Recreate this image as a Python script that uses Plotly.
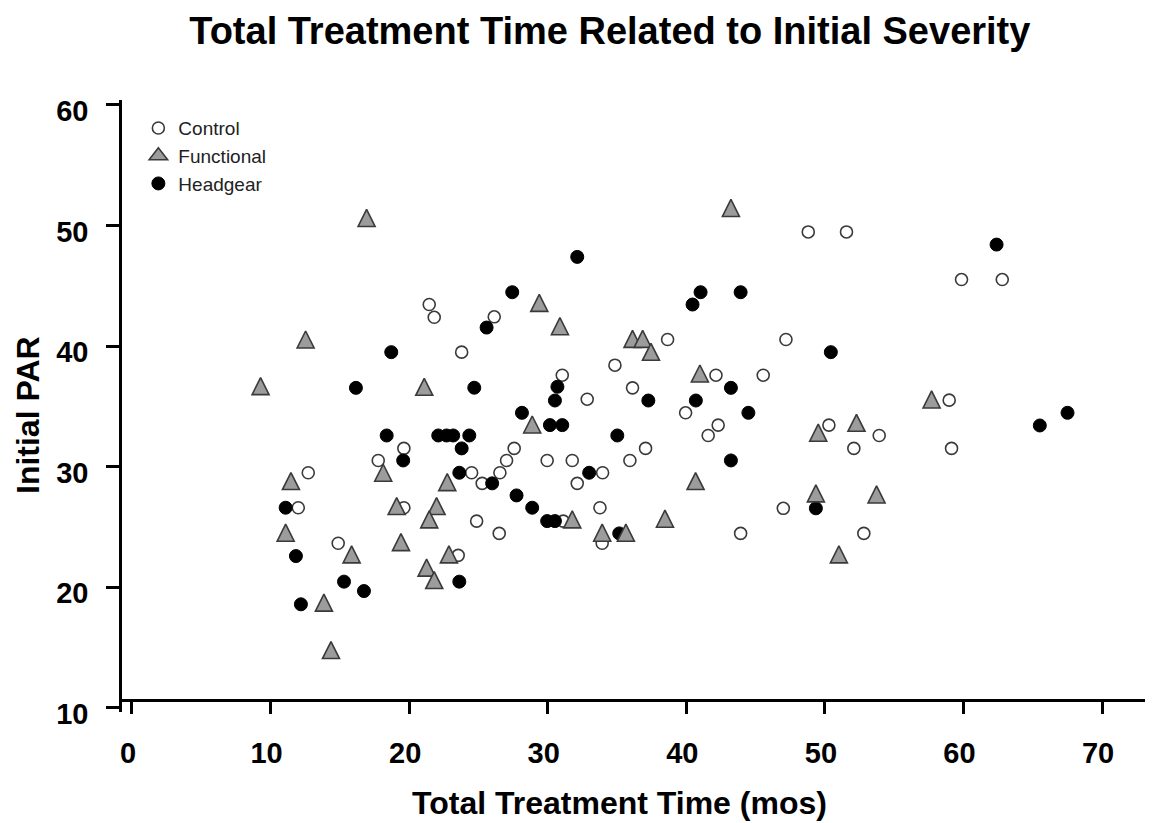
import plotly.graph_objects as go

# Control (open circles)
control_x = [21.45, 21.81, 26.14, 23.79, 34.85, 31.05, 32.85, 48.8, 51.56, 38.65, 47.19, 42.14, 45.55,
             36.12, 59.86, 62.8, 58.97, 53.92, 59.14, 39.95, 42.3, 41.58, 37.06, 35.93, 50.29, 52.09,
             47.0, 43.92, 52.81, 19.62, 27.58, 17.77, 27.03, 29.96, 31.77, 24.51, 26.55, 25.27, 33.96,
             32.13, 33.77, 19.62, 24.87, 31.12, 26.5, 33.93, 23.54, 12.72, 12.0, 14.88]
control_y = [43.45, 42.39, 42.43, 39.5, 38.42, 37.59, 35.6, 49.47, 49.47, 40.55, 40.55, 37.59, 37.59,
             36.54, 45.52, 45.52, 35.52, 32.59, 31.52, 34.47, 33.45, 32.59, 31.52, 30.52, 33.45, 31.52,
             26.55, 24.47, 24.47, 31.52, 31.52, 30.52, 30.52, 30.52, 30.52, 29.5, 29.5, 28.62, 29.5,
             28.62, 26.6, 26.6, 25.49, 25.49, 24.47, 23.65, 22.65, 29.5, 26.6, 23.65]

# Functional (grey triangles)
functional_x = [16.93, 12.53, 9.28, 29.39, 30.88, 21.09, 43.22, 36.12, 36.85, 37.45, 40.98, 57.7, 53.73,
                49.52, 52.28, 40.67, 49.35, 38.46, 35.64, 51.01, 28.88, 18.13, 22.75, 19.1, 21.98, 21.45,
                31.77, 19.41, 33.93, 22.87, 21.26, 21.81, 11.47, 11.09, 15.85, 13.85, 14.36]
functional_y = [50.63, 40.55, 36.68, 43.59, 41.65, 36.63, 51.46, 40.6, 40.6, 39.53, 37.73, 35.58, 27.7,
                32.82, 33.64, 28.81, 27.79, 25.69, 24.53, 22.73, 33.5, 29.5, 28.72, 26.74, 26.74, 25.63,
                25.63, 23.75, 24.53, 22.73, 21.63, 20.6, 28.81, 24.53, 22.73, 18.73, 14.8]

# Headgear (black circles)
headgear_x = [16.16, 32.13, 27.44, 25.59, 18.71, 24.7, 30.7, 30.52, 41.03, 43.92, 40.45, 50.43, 43.22,
              37.26, 40.69, 62.39, 67.51, 65.51, 44.48, 35.02, 43.22, 49.35, 28.14, 30.16, 31.05, 18.38,
              22.1, 22.7, 23.18, 24.34, 23.79, 19.57, 23.62, 25.99, 32.99, 27.75, 28.88, 29.96, 30.52,
              35.16, 23.62, 11.09, 11.83, 15.3, 16.74, 12.19]
headgear_y = [36.54, 47.4, 44.47, 41.54, 39.5, 36.55, 36.63, 35.49, 44.47, 44.47, 43.45, 39.5, 36.54,
              35.49, 35.49, 48.42, 34.47, 33.42, 34.47, 32.59, 30.52, 26.55, 34.47, 33.45, 33.45, 32.59,
              32.59, 32.59, 32.59, 32.59, 31.52, 30.52, 29.5, 28.62, 29.5, 27.62, 26.6, 25.49, 25.49,
              24.47, 20.47, 26.6, 22.59, 20.47, 19.69, 18.59]

x_ticks = [0, 10, 20, 30, 40, 50, 60, 70]
y_ticks = [10, 20, 30, 40, 50, 60]

FONT = "Liberation Sans, Arial, sans-serif"
TRI_FILL = "#9c9c9c"
EDGE = "#3a3a3a"

fig = go.Figure()
fig.add_trace(go.Scatter(
    x=control_x, y=control_y, mode="markers", name="Control", legendrank=1,
    marker=dict(symbol="circle", size=12, color="white", line=dict(color=EDGE, width=1.6)),
))
fig.add_trace(go.Scatter(
    x=headgear_x, y=headgear_y, mode="markers", name="Headgear", legendrank=3,
    marker=dict(symbol="circle", size=13, color="black", line=dict(color="black", width=1)),
))
# data trace for Functional (near-equilateral triangle centred on the point)
fig.add_trace(go.Scatter(
    x=functional_x, y=functional_y, mode="markers", name="Functional",
    legendgroup="functional", showlegend=False,
    marker=dict(symbol="arrow-down", angle=180, size=17, standoff=8.5, color=TRI_FILL,
                line=dict(color=EDGE, width=1.6)),
))
# legend entry for Functional (no data)
fig.add_trace(go.Scatter(
    x=[None], y=[None], mode="markers", name="Functional", legendrank=2,
    legendgroup="functional", showlegend=True,
    marker=dict(symbol="triangle-up", size=16, color=TRI_FILL, line=dict(color=EDGE, width=1.6)),
))

fig.update_layout(
    width=1155, height=823,
    margin=dict(l=122, r=10, t=100, b=111),
    paper_bgcolor="white", plot_bgcolor="white",
    font=dict(family=FONT, color="black"),
    title=dict(text="<b>Total Treatment Time Related to Initial Severity</b>",
               font=dict(size=38, family=FONT, color="black"),
               x=0.528, xref="container", xanchor="center",
               y=1 - 31 / 823, yref="container", yanchor="middle"),
    showlegend=True,
    legend=dict(x=0.016, y=0.985, xanchor="left", yanchor="top",
                bgcolor="rgba(0,0,0,0)", font=dict(size=19, family=FONT, color="#222"),
                itemsizing="trace", tracegroupgap=0),
    xaxis=dict(range=[-0.72, 73.1], tickvals=x_ticks, ticktext=[str(v) for v in x_ticks],
               showgrid=False, zeroline=False, showline=True, linecolor="black", linewidth=3,
               ticks="outside", ticklen=12, tickwidth=2.5, tickcolor="black",
               anchor="free", position=12 / 612,
               tickfont=dict(size=29, family=FONT, color="black", weight="bold"), ticklabelstandoff=14,
               ticklabelshift=-4),
    yaxis=dict(range=[9.66, 60.41], tickvals=y_ticks, ticktext=[str(v) for v in y_ticks],
               showgrid=False, zeroline=False, showline=True, linecolor="black", linewidth=2.5,
               ticks="outside", ticklen=13, tickwidth=2.5, tickcolor="black",
               tickfont=dict(size=29, family=FONT, color="black", weight="bold"), ticklabelstandoff=12,
               ticklabelshift=6),
    annotations=[
        dict(text="<b>Total Treatment Time (mos)</b>", xref="paper", yref="paper",
             x=(619 - 122) / 1023, y=-(803 - 712) / 612, xanchor="center", yanchor="middle",
             showarrow=False, font=dict(size=32, family=FONT, color="black")),
        dict(text="<b>Initial PAR</b>", xref="paper", yref="paper", textangle=-90,
             x=(28 - 122) / 1023, y=(712 - 415) / 612, xanchor="center", yanchor="middle",
             showarrow=False, font=dict(size=32, family=FONT, color="black")),
    ],
)

fig.write_html("out.html")
